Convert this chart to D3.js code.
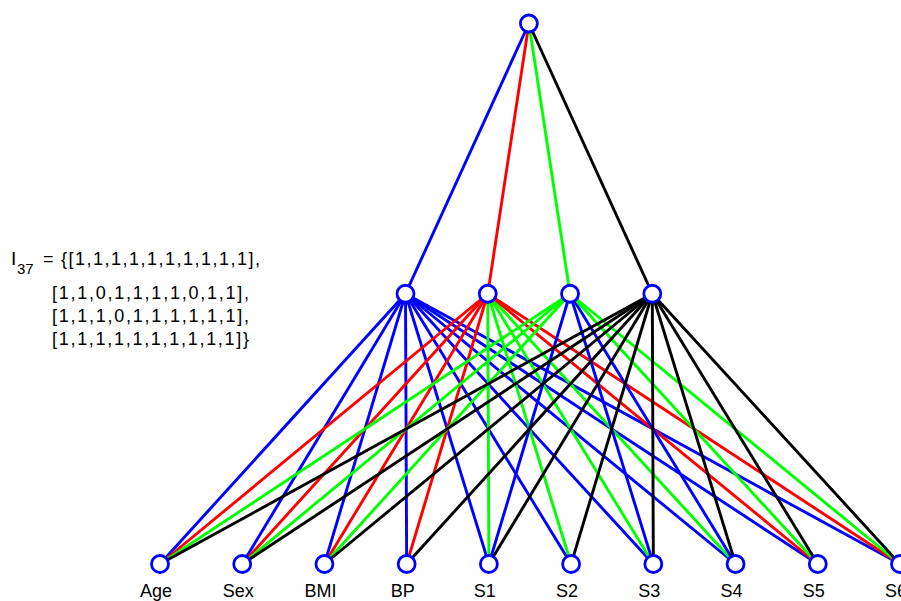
<!DOCTYPE html>
<html>
<head>
<meta charset="utf-8">
<script src="https://cdn.jsdelivr.net/npm/d3@7"></script>
<style>
  html, body { margin: 0; padding: 0; background: #fff; }
  svg { display: block; font-family: "Liberation Sans", Arial, sans-serif; }
</style>
</head>
<body>
<div id="chart"></div>
<script>
// ---- data ----
const inputLabels = ["Age", "Sex", "BMI", "BP", "S1", "S2", "S3", "S4", "S5", "S6"];
const hiddenNodes = ["h1", "h2", "h3", "h4"];
const topEdgeColors = ["b", "r", "g", "k"];
// colour of each hidden -> input connection as drawn (null = no connection)
const edgeRow1 = ["b", "b", "b", "b", "b", "b", "b", "b", "b", "b"];
const edgeRow2 = ["r", "r", "r", "r", "g", "g", "g", "g", "r", "r"];
const edgeRow3 = ["g", "g", "g", null, "b", null, "b", "b", "g", "g"];
const edgeRow4 = ["k", "k", "k", "k", "k", "k", "k", "k", "k", "k"];
const edgeRows = [edgeRow1, edgeRow2, edgeRow3, edgeRow4];
const maskName = "I";
const maskIndex = "37";
const maskLines = [
  "{[1,1,1,1,1,1,1,1,1,1],",
  "[1,1,0,1,1,1,1,0,1,1],",
  "[1,1,1,0,1,1,1,1,1,1],",
  "[1,1,1,1,1,1,1,1,1,1]}"
];

// ---- layout ----
const W = 901, H = 601;
const colorMap = { b: "#0000ff", r: "#ff0000", g: "#00ff00", k: "#000000" };

const svg = d3.select("#chart").append("svg")
  .attr("width", W).attr("height", H);

const xInput = d3.scaleLinear().domain([0, inputLabels.length - 1]).range([160, 900]);
const xHidden = d3.scaleLinear().domain([0, hiddenNodes.length - 1]).range([405.5, 652.3]);
const yLayer = d3.scaleLinear().domain([0, 2]).range([23.5, 564]);
const xTop = (xHidden(0) + xHidden(hiddenNodes.length - 1)) / 2;

const topEdges = hiddenNodes.map((h, j) => ({
  x1: xTop, y1: yLayer(0), x2: xHidden(j), y2: yLayer(1), c: topEdgeColors[j]
}));
const lowEdges = [];
edgeRows.forEach((row, j) => {
  row.forEach((c, i) => {
    if (c) lowEdges.push({ x1: xHidden(j), y1: yLayer(1), x2: xInput(i), y2: yLayer(2), c });
  });
});

const lineG = svg.append("g");
lineG.selectAll("line.e").data(topEdges.concat(lowEdges)).join("line")
  .attr("x1", d => d.x1).attr("y1", d => d.y1)
  .attr("x2", d => d.x2).attr("y2", d => d.y2)
  .attr("stroke", d => colorMap[d.c])
  .attr("stroke-width", 2.9);

const nodes = [{ x: xTop, y: yLayer(0) }]
  .concat(hiddenNodes.map((h, j) => ({ x: xHidden(j), y: yLayer(1) })))
  .concat(inputLabels.map((l, i) => ({ x: xInput(i), y: yLayer(2) })));

svg.append("g").selectAll("circle").data(nodes).join("circle")
  .attr("cx", d => d.x).attr("cy", d => d.y).attr("r", 8.5)
  .attr("fill", "#fff").attr("stroke", "#0000ff").attr("stroke-width", 2.8);

svg.append("g").selectAll("text").data(inputLabels).join("text")
  .attr("x", (d, i) => xInput(i) - 4)
  .attr("y", 597)
  .attr("text-anchor", "middle")
  .attr("font-size", 18)
  .attr("fill", "#000")
  .text(d => d);

// mask annotation
const ann = svg.append("g").attr("fill", "#000");
ann.append("text").attr("x", 11).attr("y", 265).attr("font-size", 19).text(maskName);
ann.append("text").attr("x", 17).attr("y", 274).attr("font-size", 15).text(maskIndex);
ann.append("text").attr("x", 43).attr("y", 265).attr("font-size", 18).text("=");
ann.append("text").attr("x", 61).attr("y", 265).attr("font-size", 18)
  .attr("textLength", 199).attr("lengthAdjust", "spacing").text(maskLines[0]);
maskLines.slice(1).forEach((t, k) => {
  ann.append("text").attr("x", 52).attr("y", 299 + k * 23).attr("font-size", 18)
    .attr("textLength", 197).attr("lengthAdjust", "spacing").text(t);
});
</script>
</body>
</html>
